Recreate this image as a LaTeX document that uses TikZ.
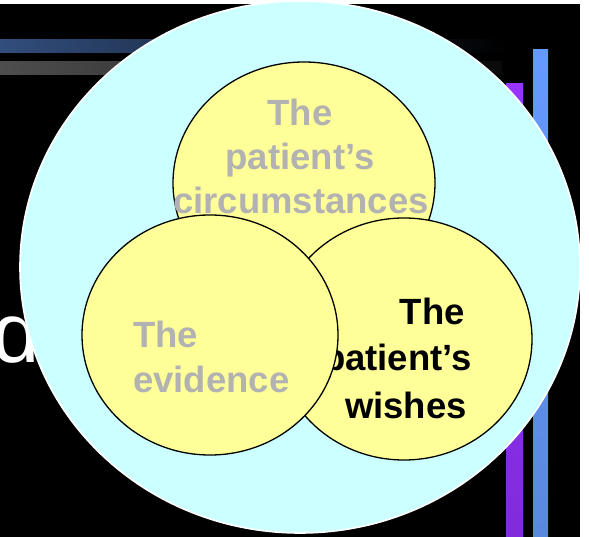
\documentclass[tikz,border=0pt]{standalone}
\usepackage{fontspec}
\setmainfont{Liberation Sans}
\usetikzlibrary{shapes.geometric}

\definecolor{lightcyan}{HTML}{CCFFFF}
\definecolor{paleyellow}{HTML}{FFFF99}
\definecolor{softgray}{HTML}{B2B2B2}
\definecolor{barblue}{RGB}{50,78,125}
\definecolor{bargray}{RGB}{78,78,78}
\definecolor{barpurpletop}{RGB}{153,51,255}
\definecolor{barpurplebot}{RGB}{128,44,218}
\definecolor{barbluetop}{RGB}{102,153,255}
\definecolor{barbluebot}{RGB}{90,136,222}

\tikzset{
  outer/.style={ellipse, draw=white, line width=1.6pt, fill=lightcyan,
    inner sep=0pt, minimum width=560pt, minimum height=532pt},
  bubble/.style={ellipse, draw=black, line width=1.3pt, fill=paleyellow,
    inner sep=0pt},
  label/.style={font=\bfseries\fontsize{36.5}{44}\selectfont, inner sep=0pt},
  dim/.style={label, text=softgray},
  dark/.style={label, text=black}
}

\begin{document}
\begin{tikzpicture}[x=1pt, y=-1pt]
  % page frame: white margin on top and right, black slide area
  \useasboundingbox (0,0) rectangle (589,537);
  \fill[white] (0,0) rectangle (589,537);
  \fill[black] (0,4) rectangle (580,537);

  % decorative bars of the slide template
  \shade[left color=barblue, right color=black] (0,40) rectangle (507,53);
  \shade[left color=bargray, right color={rgb,255:red,10;green,10;blue,10}] (0,62) rectangle (502,75);
  \shade[top color=barpurpletop, bottom color=barpurplebot] (506,84) rectangle (523,537);
  \shade[top color=barbluetop, bottom color=barbluebot] (533,50) rectangle (548,537);

  % title letter behind the diagram
  \node[anchor=base west, inner sep=0pt, text=white,
        font=\fontsize{85}{90}\selectfont] (title) at (-8,362) {d};

  % large surrounding circle
  \node[outer] (context) at (300,267) {};

  % top bubble
  \node[bubble, minimum width=262pt, minimum height=242pt] (circ) at (304,183) {};
  \node[dim, anchor=base] (c1) at (300,126) {The};
  \node[dim, anchor=base] (c2) at (300,170) {patient’s};
  \node[dim, anchor=base] (c3) at (301,214) {circumstances};

  % right bubble
  \node[bubble, minimum width=256pt, minimum height=242pt] (wish) at (404,339) {};
  \node[dark, anchor=base east] (w1) at (465,325) {The};
  \node[dark, anchor=base east] (w2) at (472,370) {patient’s};
  \node[dark, anchor=base east] (w3) at (467,418) {wishes};

  % left bubble
  \node[bubble, minimum width=256pt, minimum height=240pt] (evid) at (210,335) {};
  \node[dim, anchor=base west] (e1) at (133,348) {The};
  \node[dim, anchor=base west] (e2) at (133,392) {evidence};
\end{tikzpicture}
\end{document}
